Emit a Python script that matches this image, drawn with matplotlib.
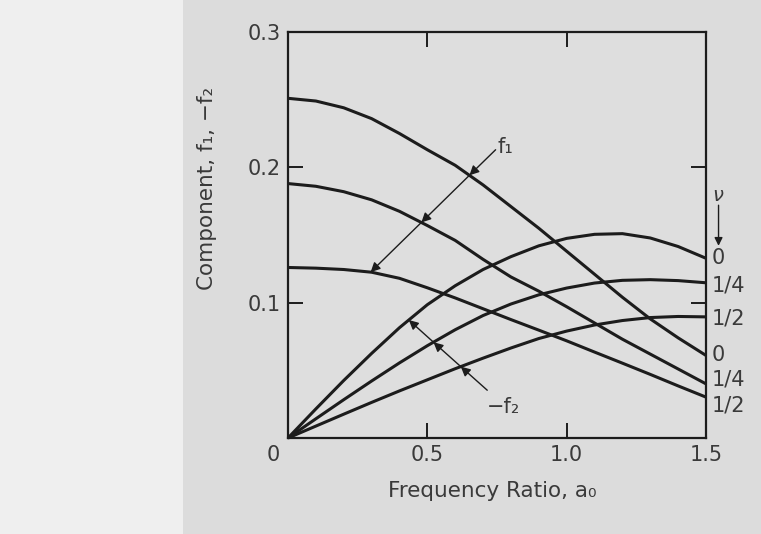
import numpy as np
import matplotlib
matplotlib.use("Agg")
import matplotlib.pyplot as plt
from matplotlib.patches import Rectangle
from matplotlib.transforms import ScaledTranslation, blended_transform_factory

# frequency ratio a0
a0 = [0.0, 0.1, 0.2, 0.3, 0.4, 0.5, 0.6, 0.7, 0.8, 0.9, 1.0, 1.1, 1.2, 1.3, 1.4, 1.5]

# f1 for poisson's ratio 0, 1/4, 1/2
f1_nu0 = [0.251, 0.249, 0.244, 0.236, 0.225, 0.213, 0.2015, 0.187, 0.171, 0.155,
          0.138, 0.121, 0.104, 0.088, 0.074, 0.061]
f1_nu14 = [0.188, 0.186, 0.182, 0.176, 0.1675, 0.157, 0.146, 0.132, 0.119, 0.1085,
           0.097, 0.085, 0.073, 0.062, 0.051, 0.040]
f1_nu12 = [0.126, 0.1255, 0.1245, 0.1225, 0.118, 0.111, 0.1035, 0.0955, 0.0875, 0.0797,
           0.0718, 0.0635, 0.0553, 0.047, 0.0385, 0.0302]

# -f2 for poisson's ratio 0, 1/4, 1/2
f2_nu0 = [0.0, 0.0215, 0.0425, 0.0625, 0.0815, 0.0985, 0.1125, 0.1245, 0.134, 0.142,
          0.1475, 0.1505, 0.151, 0.1478, 0.1415, 0.1328]
f2_nu14 = [0.0, 0.0142, 0.0283, 0.0421, 0.0555, 0.0682, 0.080, 0.0905, 0.099, 0.1058,
           0.1108, 0.1145, 0.1165, 0.117, 0.1163, 0.1147]
f2_nu12 = [0.0, 0.0088, 0.0176, 0.0263, 0.0348, 0.043, 0.0512, 0.059, 0.0665, 0.0735,
           0.079, 0.0835, 0.0868, 0.089, 0.0898, 0.0895]

nu_labels = ['0', '1/4', '1/2', '0', '1/4', '1/2']

ink = '#1c1c1c'
txt = '#3a3a3a'

plt.rcParams['font.family'] = ['DejaVu Sans']
plt.rcParams['mathtext.fontset'] = 'dejavusans'

fig = plt.figure(figsize=(7.61, 5.34), dpi=100)
fig.patch.set_facecolor('#efefef')
# gray page of the scan behind the chart
fig.patches.append(Rectangle((0.24, 0), 0.76, 1, transform=fig.transFigure,
                             facecolor='#dcdcdc', edgecolor='none', zorder=-10))

ax = fig.add_axes([288 / 761, 1 - 438 / 534, 418 / 761, 406 / 534])
ax.set_facecolor('#dedede')

f1_curves = [f1_nu0, f1_nu14, f1_nu12]
f2_curves = [f2_nu0, f2_nu14, f2_nu12]
for c in f1_curves + f2_curves:
    ax.plot(a0, c, color=ink, lw=2.2, solid_capstyle='butt',
            solid_joinstyle='round', clip_on=False)

ax.set_xlim(0, 1.5)
ax.set_ylim(0, 0.3)
ax.set_xticks([0, 0.5, 1.0, 1.5])
ax.set_xticklabels(['0', '0.5', '1.0', '1.5'])
ax.set_yticks([0.1, 0.2, 0.3])
ax.set_yticklabels(['0.1', '0.2', '0.3'])
ax.tick_params(direction='in', length=11, width=1.4, top=True, right=True,
               labelsize=15, labelcolor=txt, color=ink, pad=5)
# shared corner zero sits a little left of the axis
lbl0 = ax.get_xticklabels()[0]
lbl0.set_transform(lbl0.get_transform() + ScaledTranslation(-15 / 100, 0, fig.dpi_scale_trans))
for s in ax.spines.values():
    s.set_linewidth(1.6)
    s.set_color(ink)

ax.set_xlabel('Frequency Ratio, a₀', fontsize=15.5, color=txt)
ax.xaxis.set_label_coords(0.488, -0.105)
ax.set_ylabel('Component, f₁, −f₂', fontsize=15.5, color=txt)
ax.yaxis.set_label_coords(-0.17, 0.615)


def crossing(x0, y0, slope, ys):
    grid = np.linspace(0, 1.5, 3001)
    diff = np.interp(grid, a0, ys) - (y0 + slope * (grid - x0))
    i = np.where(np.sign(diff[:-1]) != np.sign(diff[1:]))[0][0]
    return grid[i], np.interp(grid[i], a0, ys)


def arrow_chain(tail, slope, curves):
    start = tail
    for c in curves:
        tip = crossing(tail[0], tail[1], slope, c)
        ax.annotate('', xy=tip, xytext=start,
                    arrowprops=dict(arrowstyle='-|>', color=ink, lw=1.0,
                                    mutation_scale=14, shrinkA=0, shrinkB=0))
        start = tip


# f1 pointer
arrow_chain((0.745, 0.213), 0.2018, f1_curves)
ax.text(0.752, 0.215, 'f₁', fontsize=15, color=txt, ha='left', va='center')

# -f2 pointer
arrow_chain((0.715, 0.0353), -0.1847, [f2_nu12, f2_nu14, f2_nu0])
ax.text(0.715, 0.030, '−f₂', fontsize=15, color=txt, ha='left', va='top')

# poisson's ratio labels at the right edge
tr = blended_transform_factory(ax.transAxes, ax.transData)
ends = [f2_nu0[-1], f2_nu14[-1], f2_nu12[-1], f1_nu0[-1], f1_nu14[-1], f1_nu12[-1]]
nudge = [0, -0.002, -0.001, 0, 0.003, -0.006]
for y, d, s in zip(ends, nudge, nu_labels):
    ax.text(1.013, y + d, s, transform=tr, fontsize=15, color=txt,
            ha='left', va='center', clip_on=False)
ax.text(1.03, 0.179, r'$\nu$', transform=tr, fontsize=14, color=txt,
        ha='center', va='center', clip_on=False)
ax.annotate('', xy=(1.03, 0.142), xytext=(1.03, 0.172), xycoords=tr, textcoords=tr,
            arrowprops=dict(arrowstyle='-|>', color=ink, lw=1.0, mutation_scale=12,
                            shrinkA=0, shrinkB=0))

fig.savefig('out.png', dpi=100, facecolor=fig.get_facecolor())
